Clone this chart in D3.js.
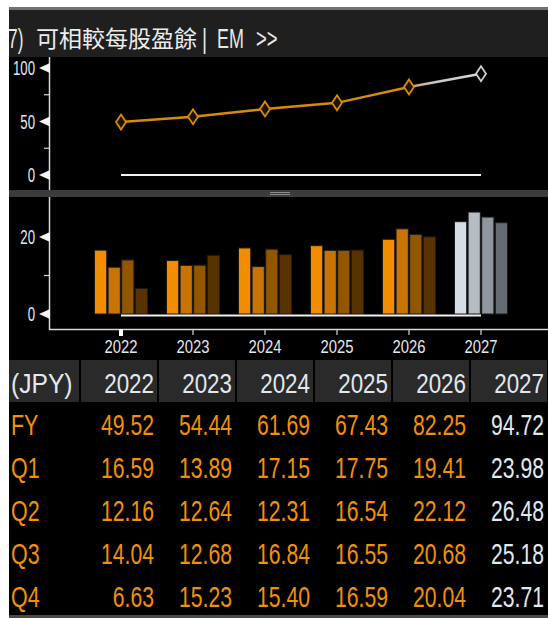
<!DOCTYPE html>
<html><head><meta charset="utf-8">
<script src="https://cdn.jsdelivr.net/npm/d3@7"></script>
<style>html,body{margin:0;padding:0;background:#fff;}svg{display:block}</style>
</head><body>
<script>
// ---- data ----
const years = ["2022","2023","2024","2025","2026","2027"];
const quarters = ["Q1","Q2","Q3","Q4"];
const fy = [49.52,54.44,61.69,67.43,82.25,94.72];
const q1 = [16.59,13.89,17.15,17.75,19.41,23.98];
const q2 = [12.16,12.64,12.31,16.54,22.12,26.48];
const q3 = [14.04,12.68,16.84,16.55,20.68,25.18];
const q4 = [6.63,15.23,15.40,16.59,20.04,23.71];
const estimateYears = ["2027"];
const topTicks = [0,50,100];
const topMinorTicks = [25,75];
const barTicks = [0,20];
const barMinorTicks = [10];
const currencyLabel = "(JPY)";
const rowLabels = ["FY","Q1","Q2","Q3","Q4"];
const titleNum = "7)";
const titleText = "可相較每股盈餘";
const titleCode = "EM";

// ---- layout/styles ----
const W = 548, H = 618;
const FONT = "'Liberation Sans', Arial, sans-serif";
const CJK = "'Noto Sans CJK TC','Noto Sans CJK SC',sans-serif";
const orangeShades = ["#f28c00","#c97400","#925600","#573300"];
const greyShades = ["#d5dde6","#b5bcc4","#8f969e","#646b73"];
const orangeText = "#f2900c", lightText = "#e2e8ef";

const svg = d3.select("body").append("svg").attr("width", W).attr("height", H);

svg.append("rect").attr("x",9).attr("y",7).attr("width",W-9).attr("height",610).attr("fill","#000");
svg.append("rect").attr("x",9).attr("y",7).attr("width",W-9).attr("height",3).attr("fill","#707070");
svg.append("rect").attr("x",9).attr("y",10).attr("width",W-9).attr("height",47).attr("fill","#1f1f1f");
svg.append("rect").attr("x",9).attr("y",615).attr("width",W-9).attr("height",3).attr("fill","#4a4a4a");

function ctext(g, x, y, str, opts) {
  const t = g.append("g").attr("transform", `translate(${x},${y}) scale(${opts.sx||1},1)`)
    .append("text").text(str)
    .attr("font-family", opts.family || FONT)
    .attr("font-size", opts.size)
    .attr("fill", opts.fill)
    .attr("text-anchor", opts.anchor || "start");
  if (opts.weight) t.attr("font-weight", opts.weight);
  return t;
}

// title
const defs = svg.append("defs");
defs.append("clipPath").attr("id","hc").append("rect")
  .attr("x",9).attr("y",10).attr("width",W-9).attr("height",47);
const tg = svg.append("g").attr("clip-path","url(#hc)");
ctext(tg, 8, 48, titleNum, {size:28, sx:0.62, fill:"#e8e8e8"});
ctext(tg, 36, 47, titleText, {size:23, fill:"#ececec", family:CJK});
ctext(tg, 202, 48, "|", {size:28, sx:0.7, fill:"#e8e8e8"});
ctext(tg, 217, 48, titleCode, {size:28, sx:0.64, fill:"#e8e8e8"});
ctext(tg, 256, 48, ">>", {size:28, sx:0.66, fill:"#e8e8e8"});

// scales
const x = d3.scalePoint().domain(years).range([121, 481]);
const yTop = d3.scaleLinear().domain([0,100]).range([175, 68]);
const yBar = d3.scaleLinear().domain([0,20]).range([314, 237]);
const xq = d3.scaleBand().domain(quarters).range([-26.5, 26.5]).paddingInner(0.1);

// separator
svg.append("rect").attr("x",9).attr("y",190).attr("width",W-9).attr("height",7).attr("fill","#3b3b3b");
[192.5,194.5].forEach(yy => svg.append("line").attr("x1",270).attr("x2",290).attr("y1",yy).attr("y2",yy)
  .attr("stroke","#8c8c8c").attr("stroke-width",1));

// axes (left)
const axisColor = "#d8d8d8";
svg.append("line").attr("x1",49.5).attr("x2",49.5).attr("y1",57).attr("y2",190).attr("stroke",axisColor).attr("stroke-width",1.5);
svg.append("path").attr("d","M49.5,197 V329.5 H548").attr("fill","none").attr("stroke",axisColor).attr("stroke-width",1.5);

function majorTick(y, label) {
  svg.append("path").attr("d", `M50,${y-5} L50,${y+5} L39,${y} Z`).attr("fill","#f4f4f4");
  ctext(svg, 35, y+7, label, {size:20, sx:0.66, fill:lightText, anchor:"end"});
}
function minorTick(y) {
  svg.append("line").attr("x1",44).attr("x2",50).attr("y1",y).attr("y2",y).attr("stroke",axisColor).attr("stroke-width",1.2);
}
topTicks.forEach(v => majorTick(yTop(v), String(v)));
topMinorTicks.forEach(v => minorTick(yTop(v)));
barTicks.forEach(v => majorTick(yBar(v), String(v)));
barMinorTicks.forEach(v => minorTick(yBar(v)));

// top chart: zero line
svg.append("line").attr("x1",x(years[0])).attr("x2",x(years[years.length-1]))
  .attr("y1",yTop(0)).attr("y2",yTop(0)).attr("stroke","#f0f0f0").attr("stroke-width",2);

// top line
const pts = years.map((yr,i) => [x(yr), yTop(fy[i])]);
const isEst = yr => estimateYears.includes(yr);
const actualPts = pts.filter((p,i) => !isEst(years[i]));
const grad = defs.append("linearGradient").attr("id","lg").attr("gradientUnits","userSpaceOnUse")
  .attr("x1", x("2026")).attr("x2", x("2027")).attr("y1",0).attr("y2",0);
grad.append("stop").attr("offset","0%").attr("stop-color","#d9963a");
grad.append("stop").attr("offset","35%").attr("stop-color","#c8c8c8");
grad.append("stop").attr("offset","100%").attr("stop-color","#d6d6d6");
svg.append("path").attr("d", d3.line()(actualPts)).attr("fill","none").attr("stroke","#d98a08").attr("stroke-width",2.5);
const firstEst = years.findIndex(isEst);
svg.append("path").attr("d", d3.line()(pts.slice(firstEst-1))).attr("fill","none").attr("stroke","url(#lg)").attr("stroke-width",2.5);
svg.selectAll(".dm").data(years).enter().append("path")
  .attr("transform",(yr,i)=>`translate(${pts[i][0]},${pts[i][1]})`)
  .attr("d","M0,-7.5 L5,0 L0,7.5 L-5,0 Z")
  .attr("fill", yr => isEst(yr) ? "#000" : "#1c1200")
  .attr("stroke", yr => isEst(yr) ? "#cfcfcf" : "#d98a08").attr("stroke-width",1.8);

// bars
const qVals = [q1,q2,q3,q4];
const barData = [];
years.forEach((yr,i) => quarters.forEach((q,j) => barData.push({yr, q, j, v: qVals[j][i]})));
svg.selectAll(".bar").data(barData).enter().append("rect")
  .attr("x", d => x(d.yr) + xq(d.q))
  .attr("width", xq.bandwidth())
  .attr("y", d => yBar(d.v))
  .attr("height", d => yBar(0) - yBar(d.v))
  .attr("fill", d => (isEst(d.yr) ? greyShades : orangeShades)[d.j])
  .attr("stroke","#1a1a1a").attr("stroke-width",1);

// bottom zero line
svg.append("line").attr("x1",x(years[0])).attr("x2",x(years[years.length-1]))
  .attr("y1",yBar(0)+1.5).attr("y2",yBar(0)+1.5).attr("stroke","#f0f0f0").attr("stroke-width",2);

// x axis ticks + labels
years.forEach((yr,i) => {
  if (i === 0) svg.append("rect").attr("x",x(yr)-2).attr("y",329).attr("width",4).attr("height",7).attr("fill","#fff");
  else svg.append("line").attr("x1",x(yr)).attr("x2",x(yr)).attr("y1",329).attr("y2",335).attr("stroke",axisColor).attr("stroke-width",1.2);
  ctext(svg, x(yr), 353, yr, {size:19, sx:0.78, fill:lightText, anchor:"middle"});
});

// table
const col = d3.scaleBand().domain(years).range([80, 548]);
const rowY = d3.scalePoint().domain(rowLabels).range([435, 607]);
svg.append("rect").attr("x",9).attr("y",360).attr("width",70).attr("height",42).attr("fill","#2a2a2a");
ctext(svg, 11, 393, currencyLabel, {size:28, sx:0.88, fill:lightText});
years.forEach(yr => {
  svg.append("rect").attr("x", col(yr)+1).attr("y",360).attr("width", col.bandwidth()-2).attr("height",42).attr("fill","#2a2a2a");
  ctext(svg, col(yr)+col.bandwidth()-4, 393, yr, {size:28, sx:0.8, fill:lightText, anchor:"end"});
});
const rowsData = [fy,q1,q2,q3,q4];
rowLabels.forEach((lab, r) => {
  ctext(svg, 11, rowY(lab), lab, {size:29, sx:0.74, fill:orangeText});
  years.forEach((yr,i) => {
    ctext(svg, col(yr)+col.bandwidth()-4, rowY(lab), rowsData[r][i].toFixed(2),
      {size:29, sx:0.73, fill: isEst(yr) ? lightText : orangeText, anchor:"end"});
  });
});
</script>
</body></html>
